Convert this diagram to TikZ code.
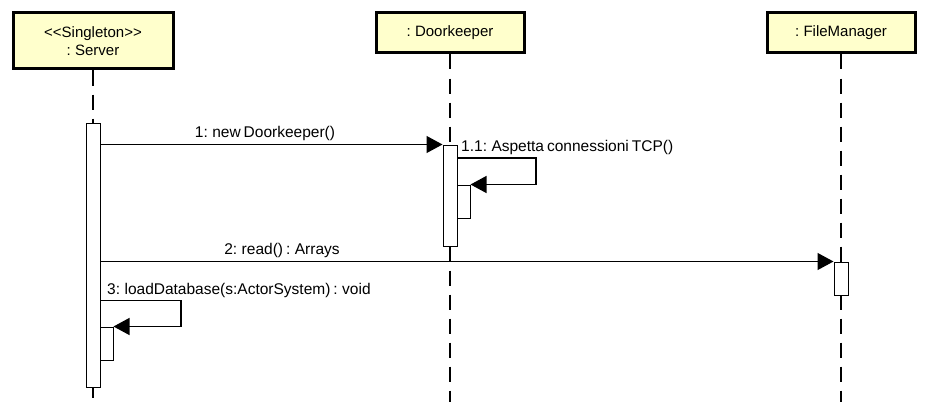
\documentclass[tikz,border=0pt]{standalone}
\usepackage{fontspec}
\setmainfont[WordSpace=0.7]{Liberation Sans}
\usetikzlibrary{arrows.meta}
\definecolor{hdrfill}{RGB}{255,255,204}
\begin{document}
\begin{tikzpicture}[x=1pt,y=-1pt,
  hdr/.style={draw=black,line width=3pt,fill=hdrfill,inner sep=0pt,align=center,
    font=\fontsize{15}{18}\selectfont},
  bar/.style={draw=black,line width=1pt,fill=white,inner sep=0pt,minimum width=14pt},
  life/.style={line width=1.2pt,dash pattern=on 15pt off 9pt},
  msg/.style={line width=1.3pt,-{Triangle[length=16pt,width=17pt]}},
  lbl/.style={font=\fontsize{15.5}{18}\selectfont,inner sep=0pt}]
\useasboundingbox (0,0) rectangle (926,420);
\fill[white] (0,0) rectangle (926,420);
% headers
\node[hdr,minimum width=160pt,minimum height=56pt] (srv) at (93,41) {{<}{<}Singleton{>}{>}\\: Server};
\node[hdr,minimum width=148pt,minimum height=40pt] (dk) at (450,33) {: Doorkeeper};
\node[hdr,minimum width=148pt,minimum height=40pt] (fm) at (841,33) {: FileManager};
% lifeline ends
\coordinate (srvend) at (93,405);
\coordinate (dkend) at (450,402);
\coordinate (fmend) at (841,402);
\draw[life] (srv.south) -- (srvend);
\draw[life] (dk.south) -- (dkend);
\draw[life] (fm.south) -- (fmend);
% activation bars
\node[bar,minimum height=264pt] (sbar) at (93,255) {};
\node[bar,minimum height=101pt] (dbar) at (450,195.5) {};
\node[bar,minimum height=33pt,minimum width=13pt] (dbar2) at (463.5,201.5) {};
\node[bar,minimum height=33pt] (fbar) at (841,278.5) {};
\node[bar,minimum height=33pt,minimum width=13pt] (sbar2) at (106.5,343.5) {};
% message 1
\draw[msg] (sbar.east |- dbar.north) -- (dbar.north west);
\node[lbl,anchor=base] (l1) at (265,137) {1: new Doorkeeper()};
% message 1.1 (self)
\coordinate (s11a) at (536,158);
\draw[msg] (dbar.east |- s11a) -- (s11a) -- (s11a |- dbar2.north) -- (dbar2.north east);
\node[lbl,anchor=base west] (l11) at (461,151) {1.1: Aspetta connessioni TCP()};
% message 2
\draw[msg] (sbar.east |- fbar.north) -- (fbar.north west);
\node[lbl,anchor=base] (l2) at (282,254) {2: read() : Arrays};
% message 3 (self)
\coordinate (s3a) at (181,300.5);
\draw[msg] (sbar.east |- s3a) -- (s3a) -- (s3a |- sbar2.north) -- (sbar2.north east);
\node[lbl,anchor=base west] (l3) at (107,294) {3: loadDatabase(s:ActorSystem) : void};
\end{tikzpicture}
\end{document}
